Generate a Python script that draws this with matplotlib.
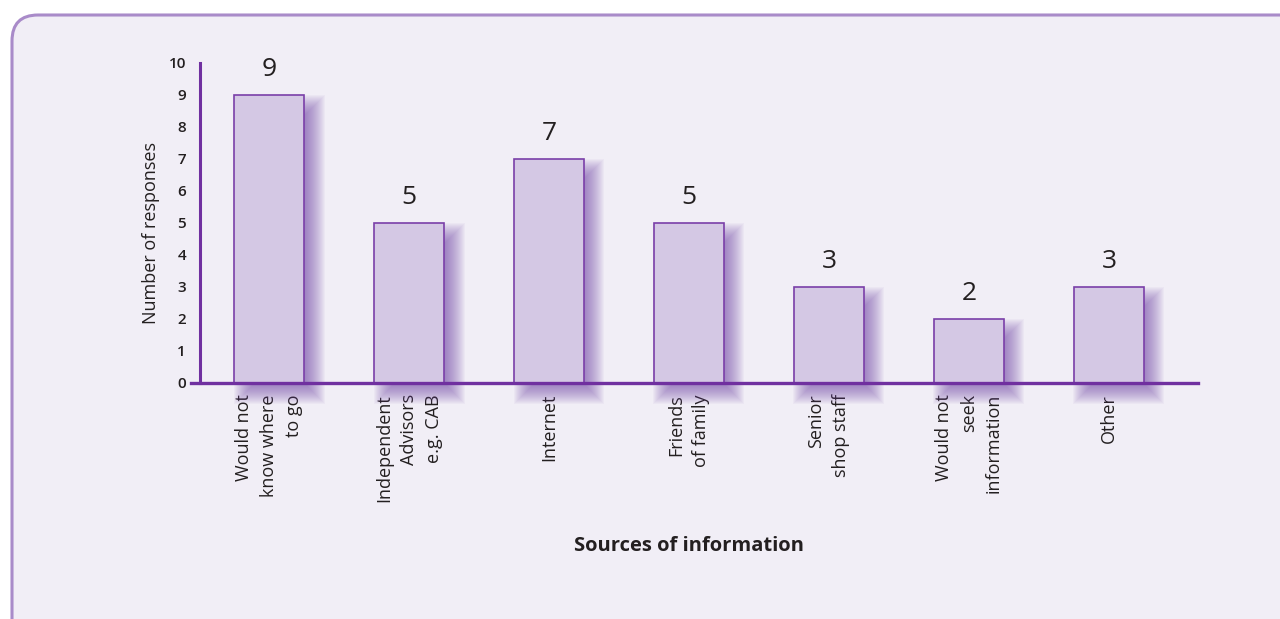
import matplotlib
matplotlib.use("Agg")
import matplotlib.pyplot as plt
from matplotlib.patches import FancyBboxPatch

plt.rcParams['font.family'] = ['Open Sans', 'DejaVu Sans']

categories = ["Would not\nknow where\nto go", "Independent\nAdvisors\ne.g. CAB", "Internet",
              "Friends\nof family", "Senior\nshop staff", "Would not\nseek\ninformation", "Other"]
values = [9, 5, 7, 5, 3, 2, 3]
yticks = list(range(0, 11))

PURPLE = "#7030a0"
BAR_FILL = "#d4c8e4"
BAR_EDGE = "#7a3fa8"
SHADOW = "#7448aa"
TEXT = "#231f20"
BG = "#f1eef6"
FRAME = "#a98bc9"

W, H = 1280, 619
fig = plt.figure(figsize=(W / 100, H / 100), dpi=100)
fig.patch.set_facecolor("white")

frame = FancyBboxPatch((12, -40), 1320, H - 15 + 40, boxstyle="round,pad=0,rounding_size=26",
                       transform=None, facecolor=BG, edgecolor=FRAME, linewidth=2.2, zorder=-10)
fig.patches.append(frame)

ax = fig.add_axes([200 / W, 1 - 383 / H, (1198 - 200) / W, (383 - 63) / H])
ax.set_zorder(5)
ax.patch.set_alpha(0)
x = list(range(len(categories)))
ax.set_xlim(-0.493, 6.636)
ax.set_ylim(0, 10)

# pixels per data unit
bb = ax.get_position()
ppu_x = bb.width * W / (6.636 + 0.493)
ppu_y = bb.height * H / 10.0

bar_w = 0.5
# blurred drop shadow (stack of expanding translucent rectangles)
dx, dy = 10, 10
blur = 11
N = 22
for k in range(N):
    e = -blur + 2 * blur * (k + 0.5) / N
    ax.bar([xi + dx / ppu_x for xi in x], [v + 2 * e / ppu_y for v in values],
           width=bar_w + 2 * e / ppu_x, bottom=-(dy + e) / ppu_y,
           color=SHADOW, alpha=0.045, linewidth=0, zorder=2, clip_on=False)

ax.bar(x, values, width=bar_w, color=BAR_FILL, edgecolor=BAR_EDGE, linewidth=1.2, zorder=3)

for xi, v in zip(x, values):
    ax.annotate(str(v), (xi, v), xytext=(0, 9), textcoords="offset points",
                ha="center", va="bottom", fontsize=19, color=TEXT, zorder=5)

for s in ["top", "right", "bottom"]:
    ax.spines[s].set_visible(False)
ax.spines["left"].set_color(PURPLE)
ax.spines["left"].set_linewidth(2.2)
ax.spines["left"].set_zorder(4)
ax.axhline(0, xmin=-0.009, xmax=1, color=PURPLE, linewidth=2.4, zorder=4, clip_on=False)

ax.set_yticks(yticks)
ax.set_yticklabels([str(t) for t in yticks], fontsize=11, color=TEXT, fontweight="semibold")
ax.tick_params(axis="y", length=0, pad=10)
ax.set_xticks(x)
ax.set_xticklabels(categories, rotation=90, fontsize=13, color=TEXT,
                   ha="center", va="top", multialignment="right", linespacing=1.5)
ax.tick_params(axis="x", length=0, pad=8)

ax.set_ylabel("Number of responses", fontsize=13, color=TEXT)
ax.yaxis.set_label_coords(-0.040, 0.47)
ax.set_xlabel("Sources of information", fontsize=14.5, fontweight="bold", color=TEXT)
ax.xaxis.set_label_coords((689 - 200) / 998, (383 - 536) / 320)

fig.savefig("out.png", dpi=100, facecolor="white")
